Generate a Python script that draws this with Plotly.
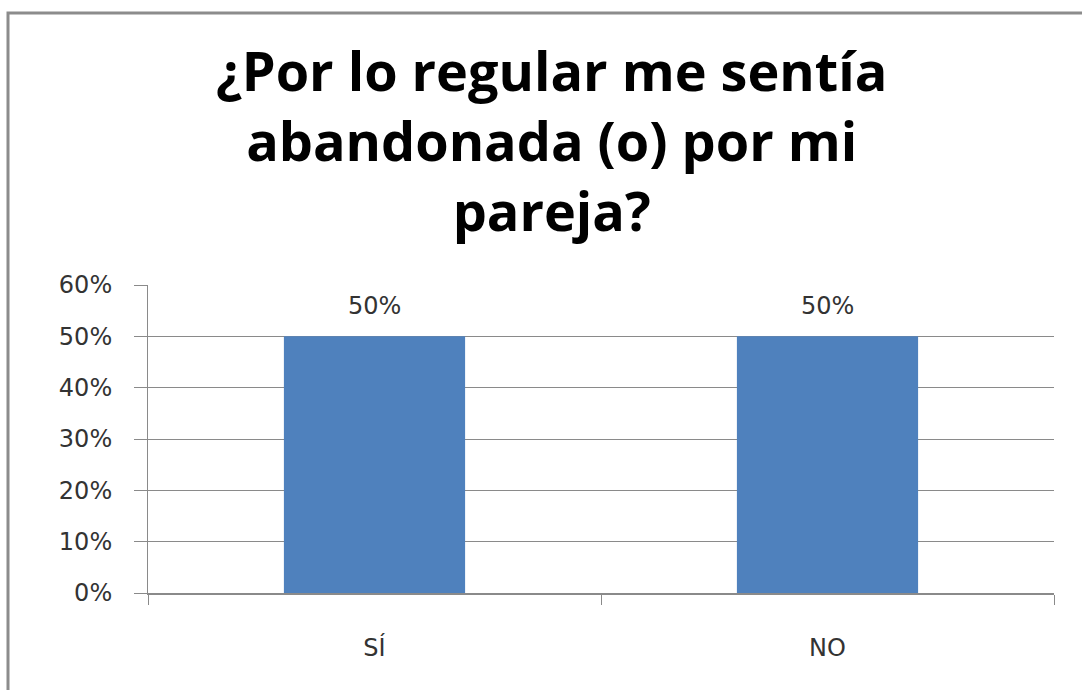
import plotly.graph_objects as go

# Survey answers and their share of respondents
categories = ["SÍ", "NO"]
shares = [0.50, 0.50]
y_ticks = [0, 0.1, 0.2, 0.3, 0.4, 0.5, 0.6]
y_tick_labels = ["0%", "10%", "20%", "30%", "40%", "50%", "60%"]
title_text = "¿Por lo regular me sentía<br>abandonada (o) por mi<br>pareja?"

W, H = 1082, 690
L, R, T, B = 148, 28, 285, 97
plot_w = W - L - R
plot_h = H - T - B


def px_x(px):
    return (px - L) / plot_w


def px_y(py):
    return (H - B - py) / plot_h


grid_col = "#8a8a8a"
label_font = dict(family="DejaVu Sans, sans-serif", size=24, color="#333333")

fig = go.Figure(
    go.Bar(
        x=categories,
        y=shares,
        marker=dict(color="#4f81bd", line=dict(width=0)),
        width=0.4,
        hoverinfo="x+y",
    )
)

# value labels above each bar
value_labels = [
    dict(
        x=c,
        y=v,
        xref="x",
        yref="y",
        text=f"{v:.0%}",
        showarrow=False,
        yanchor="bottom",
        yshift=14,
        font=label_font,
    )
    for c, v in zip(categories, shares)
]

fig.update_layout(
    width=W,
    height=H,
    margin=dict(l=L, r=R, t=T, b=B),
    paper_bgcolor="white",
    plot_bgcolor="white",
    showlegend=False,
    xaxis=dict(
        type="category",
        showline=True,
        linecolor=grid_col,
        linewidth=1.5,
        ticks="outside",
        tickson="boundaries",
        ticklen=10,
        tickcolor=grid_col,
        tickfont=label_font,
        ticklabelstandoff=32,
        showgrid=False,
        fixedrange=True,
    ),
    yaxis=dict(
        range=[0, 0.6],
        tickvals=y_ticks,
        ticktext=y_tick_labels,
        showline=True,
        linecolor=grid_col,
        linewidth=1,
        ticks="outside",
        ticklen=13,
        tickcolor=grid_col,
        tickfont=label_font,
        ticklabelstandoff=17,
        showgrid=True,
        gridcolor=grid_col,
        gridwidth=1,
        zeroline=False,
        fixedrange=True,
    ),
    annotations=value_labels
    + [
        dict(
            text="<b>" + title_text + "</b>",
            xref="paper",
            yref="paper",
            x=px_x(551),
            y=px_y(140),
            xanchor="center",
            yanchor="middle",
            showarrow=False,
            font=dict(family="Open Sans, DejaVu Sans, sans-serif", size=54, color="#000000"),
            align="center",
        )
    ],
    shapes=[
        dict(
            type="rect",
            xref="paper",
            yref="paper",
            x0=px_x(8),
            x1=px_x(1095),
            y0=px_y(705),
            y1=px_y(13),
            line=dict(color="#8c8c8c", width=3),
            fillcolor="rgba(0,0,0,0)",
            layer="below",
        )
    ],
)

fig.write_html("out.html")
